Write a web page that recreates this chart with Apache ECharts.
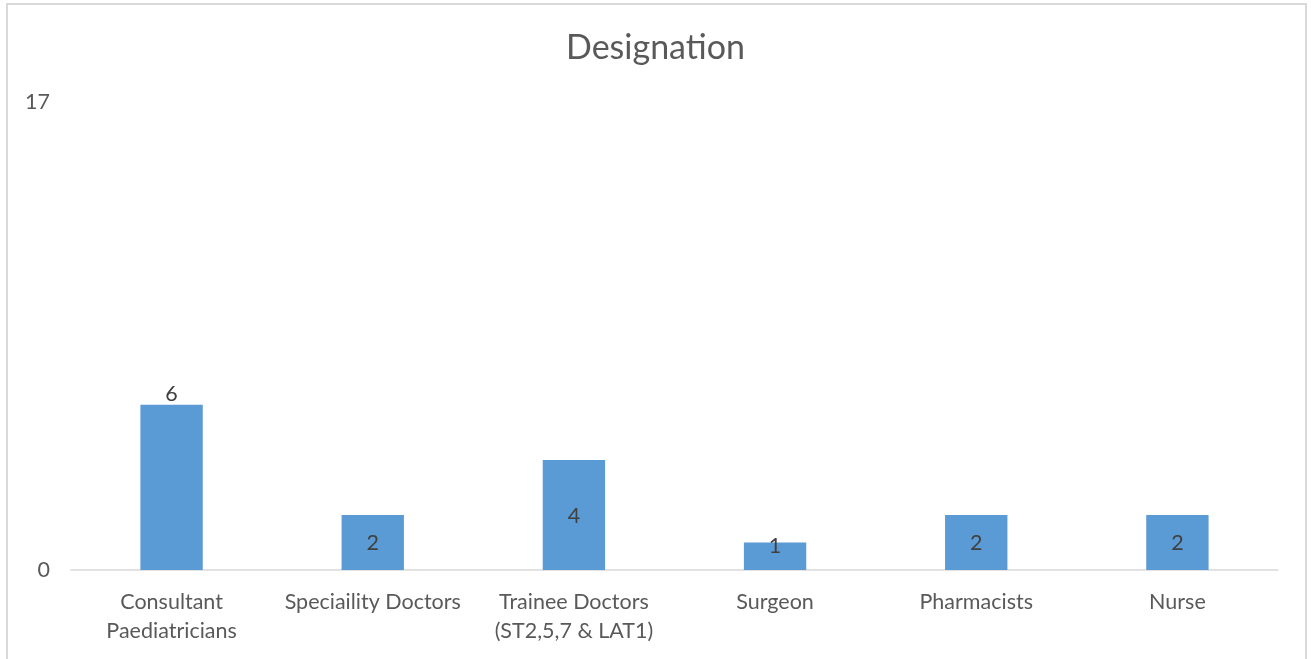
<!DOCTYPE html>
<html>
<head>
<meta charset="utf-8">
<title>Designation</title>
<script src="https://cdn.jsdelivr.net/npm/echarts@6/dist/echarts.min.js"></script>
<style>
    html, body {
        margin: 0;
        padding: 0;
        background: #fff;
    }
    #chart {
        width: 1311px;
        height: 659px;
    }
</style>
</head>
<body>
<div id="chart"></div>
<script>
// data
const categories = ['Consultant\nPaediatricians', 'Speciaility Doctors', 'Trainee Doctors\n(ST2,5,7 & LAT1)', 'Surgeon', 'Pharmacists', 'Nurse']
const counts = [6, 2, 4, 1, 2, 2]
const yMin = 0
const yMax = 17

const font = 'Lato, "Open Sans", sans-serif'

// excel puts the tallest label above the bar, small bars get the label pushed to the top
function labelFor(v) {
    if (v >= 5) {
        return { position: 'top', distance: 0 }
    }
    if (v <= 1) {
        return { position: 'inside', offset: [0, -10] }
    }
    return { position: 'inside', offset: [0, 1] }
}

const chart = echarts.init(document.getElementById('chart'))

const option = {
    animation: false,
    backgroundColor: '#fff',
    title: {
        text: 'Designation',
        left: 'center',
        top: 26,
        textStyle: {
            fontFamily: font,
            fontSize: 34,
            fontWeight: 'normal',
            color: '#595959'
        }
    },
    graphic: [{
        type: 'rect',
        silent: true,
        shape: { x: 7, y: 4, width: 1299, height: 700 },
        style: { fill: 'none', stroke: '#d9d9d9', lineWidth: 2 }
    }],
    grid: {
        left: 71,
        right: 33,
        top: 102,
        bottom: 89,
        containLabel: false
    },
    xAxis: {
        type: 'category',
        data: categories,
        axisTick: { show: false },
        axisLine: {
            lineStyle: { color: '#d9d9d9', width: 1.5 }
        },
        axisLabel: {
            interval: 0,
            margin: 18,
            fontFamily: font,
            fontSize: 21.5,
            lineHeight: 29,
            color: '#595959'
        }
    },
    yAxis: {
        type: 'value',
        min: yMin,
        max: yMax,
        interval: yMax - yMin,
        splitLine: { show: false },
        axisLine: { show: false },
        axisTick: { show: false },
        axisLabel: {
            margin: 21,
            fontFamily: font,
            fontSize: 21.5,
            color: '#595959'
        }
    },
    series: [{
        type: 'bar',
        barWidth: '31%',
        itemStyle: { color: '#5b9bd5' },
        label: {
            show: true,
            fontFamily: font,
            fontSize: 21.5,
            color: '#404040'
        },
        data: counts.map(v => ({ value: v, label: labelFor(v) }))
    }]
}

chart.setOption(option)
</script>
</body>
</html>
